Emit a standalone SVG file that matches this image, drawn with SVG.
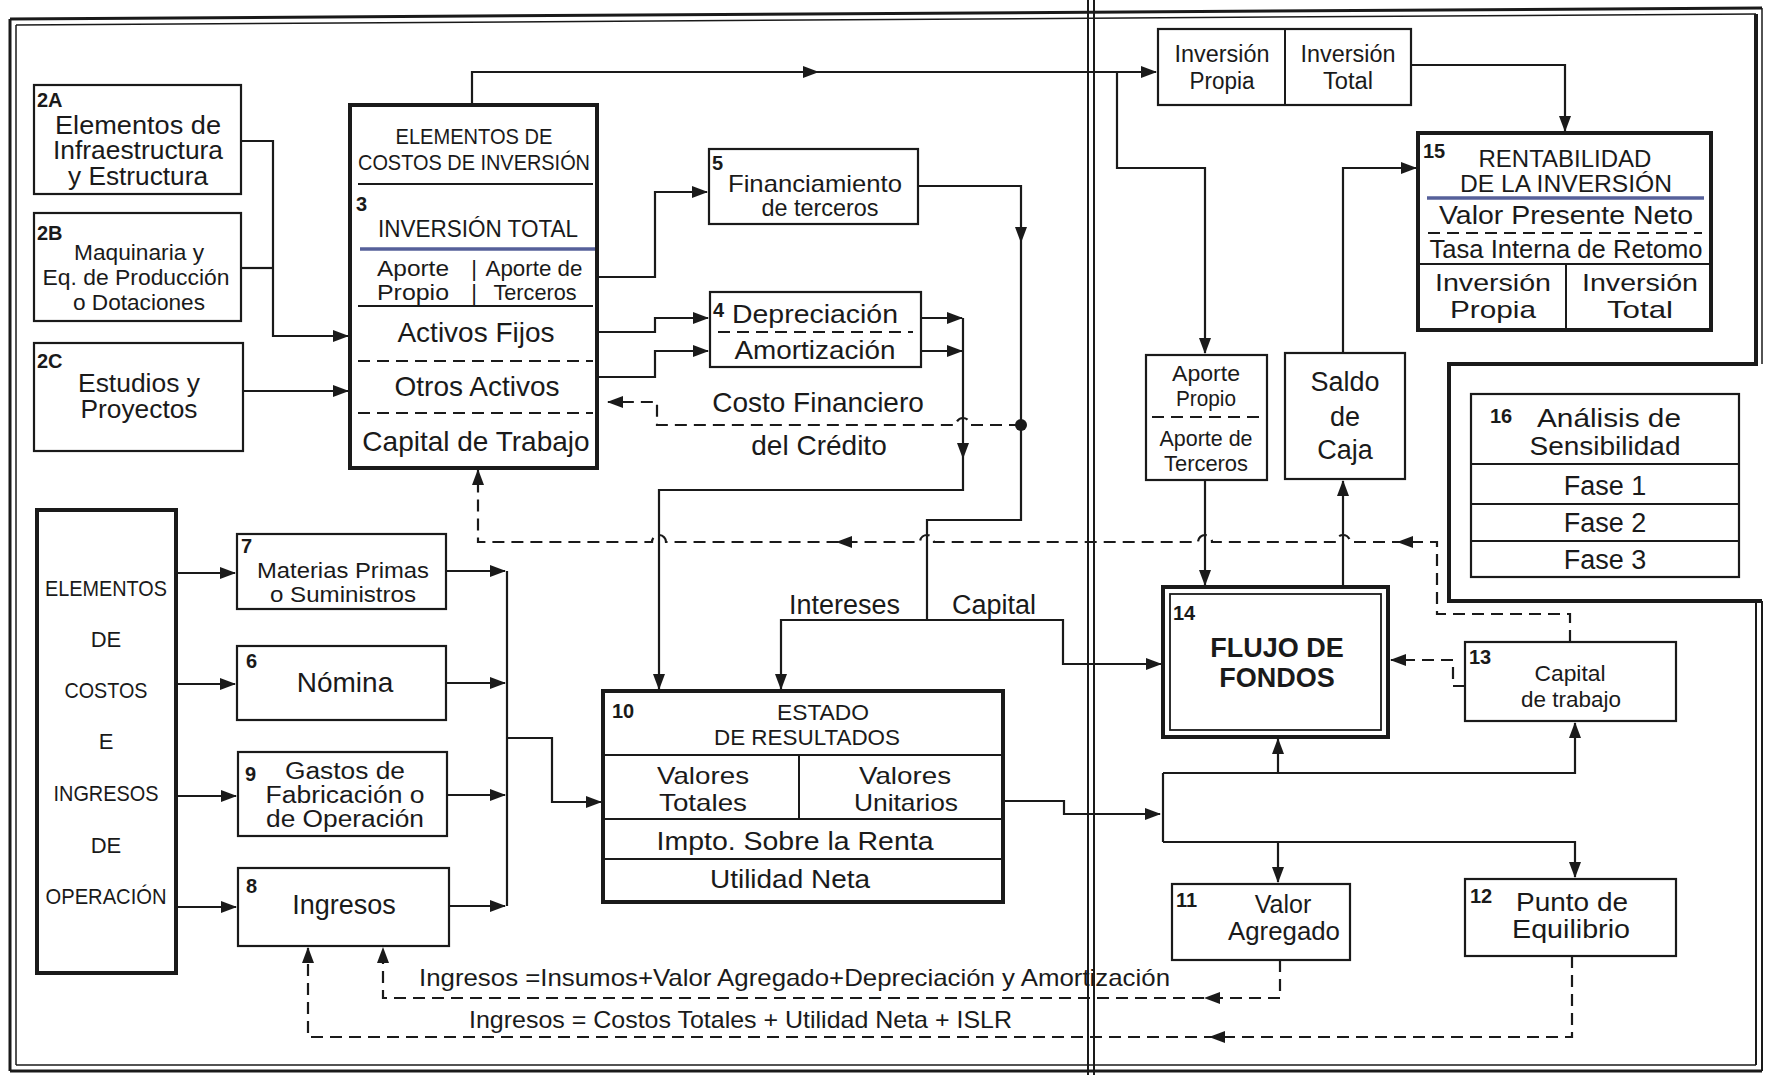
<svg xmlns="http://www.w3.org/2000/svg" width="1767" height="1075" viewBox="0 0 1767 1075">
<defs>
<style>
.b{fill:#fff;stroke:#1a1a1a;stroke-width:2.2}
.bt{fill:#fff;stroke:#1a1a1a;stroke-width:4}
.c{fill:none;stroke:#1a1a1a;stroke-width:2.2}
.d{fill:none;stroke:#1a1a1a;stroke-width:2.2;stroke-dasharray:12 7}
.l{fill:none;stroke:#1a1a1a;stroke-width:2}
.ld{fill:none;stroke:#1a1a1a;stroke-width:2;stroke-dasharray:12 7}
.bl{fill:none;stroke:#56609a;stroke-width:3.5}
text{font-family:"Liberation Sans",Arial,sans-serif;fill:#1a1a1a;font-size:25px}
.m{text-anchor:middle}
.n{font-weight:bold;font-size:20px}
.s{font-size:22px}
.k{font-size:28px}
</style>
<marker id="ar" markerWidth="16" markerHeight="12" refX="15" refY="6" orient="auto" markerUnits="userSpaceOnUse"><path d="M0,0 L16,6 L0,12 Z" fill="#1a1a1a"/></marker>
<path id="ah" d="M1,0 L-15,-6 L-15,6 Z" fill="#1a1a1a"/>
</defs>
<rect width="1767" height="1075" fill="#fff"/>

<g id="frame" fill="none" stroke="#1a1a1a">
<line x1="10" y1="19" x2="1762" y2="8" stroke-width="3"/>
<line x1="16" y1="25" x2="1756" y2="14" stroke-width="1.5"/>
<line x1="10" y1="19" x2="10" y2="1071" stroke-width="3"/>
<line x1="16" y1="25" x2="16" y2="1065" stroke-width="1.5"/>
<line x1="10" y1="1071" x2="1762" y2="1071" stroke-width="3"/>
<line x1="16" y1="1065" x2="1756" y2="1065" stroke-width="1.5"/>
<line x1="1088" y1="0" x2="1088" y2="1075" stroke-width="2"/>
<line x1="1094" y1="0" x2="1094" y2="1075" stroke-width="2"/>
<path d="M1756,14 V364 H1449 V601 H1762" stroke-width="4"/>
<line x1="1756" y1="601" x2="1756" y2="1065" stroke-width="2"/>
<line x1="1762" y1="8" x2="1762" y2="364" stroke-width="1.5"/>
<line x1="1762" y1="601" x2="1762" y2="1071" stroke-width="2"/>
</g>

<g id="connectors">
<path class="c" d="M241,141 H273 V336 H348" marker-end="url(#ar)"/>
<path class="c" d="M241,268 H273"/>
<path class="c" d="M243,391 H348" marker-end="url(#ar)"/>
<path class="c" d="M472,105 V72 H1156" marker-end="url(#ar)"/>
<use href="#ah" transform="translate(818,72)"/>
<path class="c" d="M1117,72 V168 H1205 V353" marker-end="url(#ar)"/>
<path class="c" d="M1411,65 H1565 V131" marker-end="url(#ar)"/>
<path class="c" d="M1343,353 V168 H1416" marker-end="url(#ar)"/>
<path class="c" d="M597,277 H655 V192 H707" marker-end="url(#ar)"/>
<path class="c" d="M597,332 H655 V318 H708" marker-end="url(#ar)"/>
<path class="c" d="M597,377 H655 V351 H708" marker-end="url(#ar)"/>
<path class="c" d="M921,318 H962" marker-end="url(#ar)"/>
<path class="c" d="M921,351 H962" marker-end="url(#ar)"/>
<path class="c" d="M963,318 V490 H659 V689" marker-end="url(#ar)"/>
<use href="#ah" transform="translate(963,458) rotate(90)"/>
<path class="c" d="M918,186 H1021 V520 H927 V620"/>
<use href="#ah" transform="translate(1021,242) rotate(90)"/>
<path class="c" d="M927,620 H781 V689" marker-end="url(#ar)"/>
<path class="c" d="M927,620 H1063 V664 H1161" marker-end="url(#ar)"/>
<circle cx="1021" cy="425" r="6" fill="#1a1a1a"/>
<path class="d" d="M1021,425 H970 A7,7 0 0 0 956,425 H657 V402 H608" marker-end="url(#ar)"/>
<path class="d" d="M1570,642 V614 H1437 V542 H1350 A7,7 0 0 0 1336,542 H1212 A7,7 0 0 0 1198,542 H934 A7,7 0 0 0 920,542 H666 A7,7 0 0 0 652,542 H478 V470" marker-end="url(#ar)"/>
<use href="#ah" transform="translate(1398,542) rotate(180)"/>
<use href="#ah" transform="translate(837,542) rotate(180)"/>
<path class="c" d="M1205,480 V585" marker-end="url(#ar)"/>
<path class="c" d="M1343,587 V481" marker-end="url(#ar)"/>
<path class="d" d="M1465,686 H1453 V660 H1391" marker-end="url(#ar)"/>
<path class="c" d="M1003,801 H1064 V814 H1160" marker-end="url(#ar)"/>
<path class="c" d="M1163,773 V842"/>
<path class="c" d="M1163,773 H1575 V723" marker-end="url(#ar)"/>
<path class="c" d="M1278,773 V739" marker-end="url(#ar)"/>
<path class="c" d="M1163,842 H1575 V877" marker-end="url(#ar)"/>
<path class="c" d="M1278,842 V882" marker-end="url(#ar)"/>
<path class="d" d="M1280,960 V998 H383 V948" marker-end="url(#ar)"/>
<use href="#ah" transform="translate(1205,998) rotate(180)"/>
<path class="d" d="M1572,956 V1037 H308 V948" marker-end="url(#ar)"/>
<use href="#ah" transform="translate(1210,1037) rotate(180)"/>
<path class="c" d="M176,573 H235" marker-end="url(#ar)"/>
<path class="c" d="M176,684 H235" marker-end="url(#ar)"/>
<path class="c" d="M176,796 H236" marker-end="url(#ar)"/>
<path class="c" d="M176,907 H236" marker-end="url(#ar)"/>
<path class="c" d="M446,571 H505" marker-end="url(#ar)"/>
<path class="c" d="M446,683 H505" marker-end="url(#ar)"/>
<path class="c" d="M447,795 H505" marker-end="url(#ar)"/>
<path class="c" d="M449,906 H505" marker-end="url(#ar)"/>
<path class="c" d="M507,571 V906"/>
<path class="c" d="M507,738 H552 V802 H601" marker-end="url(#ar)"/>
<text x="789" y="614" style="font-size:27px">Intereses</text>
<text x="952" y="614" style="font-size:27px">Capital</text>
<text class="k m" x="818" y="412">Costo Financiero</text>
<text class="k m" x="819" y="455">del Crédito</text>
<text x="419" y="986" style="font-size:24px" textLength="751" lengthAdjust="spacingAndGlyphs">Ingresos =Insumos+Valor Agregado+Depreciación y Amortización</text>
<text x="469" y="1028" style="font-size:24px" textLength="543" lengthAdjust="spacingAndGlyphs">Ingresos = Costos Totales + Utilidad Neta + ISLR</text>
</g>

<g id="n2A">
<rect class="b" x="34" y="85" width="207" height="109"/>
<text class="n" x="37" y="107">2A</text>
<text class="m" x="138" y="134" textLength="166" lengthAdjust="spacingAndGlyphs">Elementos de</text>
<text class="m" x="138" y="159" textLength="170" lengthAdjust="spacingAndGlyphs">Infraestructura</text>
<text class="m" x="138" y="185" textLength="140" lengthAdjust="spacingAndGlyphs">y Estructura</text>
</g>
<g id="n2B">
<rect class="b" x="34" y="213" width="207" height="108"/>
<text class="n" x="37" y="240">2B</text>
<text class="m s" x="139" y="260" textLength="130" lengthAdjust="spacingAndGlyphs">Maquinaria y</text>
<text class="m s" x="136" y="285" textLength="187" lengthAdjust="spacingAndGlyphs">Eq. de Producción</text>
<text class="m s" x="139" y="310" textLength="132" lengthAdjust="spacingAndGlyphs">o Dotaciones</text>
</g>
<g id="n2C">
<rect class="b" x="34" y="343" width="209" height="108"/>
<text class="n" x="37" y="368">2C</text>
<text class="m" x="139" y="392" textLength="122" lengthAdjust="spacingAndGlyphs">Estudios y</text>
<text class="m" x="139" y="418" textLength="117" lengthAdjust="spacingAndGlyphs">Proyectos</text>
</g>

<g id="n3">
<rect class="bt" x="350" y="105" width="247" height="363"/>
<text class="m s" x="474" y="144" textLength="157" lengthAdjust="spacingAndGlyphs">ELEMENTOS DE</text>
<text class="m s" x="474" y="170" textLength="232" lengthAdjust="spacingAndGlyphs">COSTOS DE INVERSIÓN</text>
<line class="l" x1="358" y1="184" x2="593" y2="184"/>
<text class="n" x="356" y="211">3</text>
<text class="m" x="478" y="237" style="font-size:24px" textLength="200" lengthAdjust="spacingAndGlyphs">INVERSIÓN TOTAL</text>
<line class="bl" x1="360" y1="249" x2="595" y2="249"/>
<text class="m s" x="413" y="276" textLength="72" lengthAdjust="spacingAndGlyphs">Aporte</text>
<text class="m s" x="474" y="276">|</text>
<text class="m s" x="534" y="276" textLength="97" lengthAdjust="spacingAndGlyphs">Aporte de</text>
<text class="m s" x="413" y="300" textLength="72" lengthAdjust="spacingAndGlyphs">Propio</text>
<text class="m s" x="474" y="300">|</text>
<text class="m s" x="535" y="300" textLength="83" lengthAdjust="spacingAndGlyphs">Terceros</text>
<line class="l" x1="358" y1="306" x2="593" y2="306"/>
<text class="m k" x="476" y="342">Activos Fijos</text>
<line class="ld" x1="358" y1="361" x2="593" y2="361"/>
<text class="m k" x="477" y="396">Otros Activos</text>
<line class="ld" x1="358" y1="413" x2="593" y2="413"/>
<text class="m k" x="476" y="451">Capital de Trabajo</text>
</g>

<g id="n5">
<rect class="b" x="709" y="149" width="209" height="75"/>
<text class="n" x="712" y="170">5</text>
<text class="m" x="815" y="192" style="font-size:24px" textLength="174" lengthAdjust="spacingAndGlyphs">Financiamiento</text>
<text class="m" x="820" y="216" style="font-size:24px" textLength="117" lengthAdjust="spacingAndGlyphs">de terceros</text>
</g>

<g id="n4">
<rect class="b" x="710" y="292" width="211" height="75"/>
<text class="n" x="713" y="317">4</text>
<text class="m" x="815" y="323" style="font-size:26px" textLength="166" lengthAdjust="spacingAndGlyphs">Depreciación</text>
<line class="ld" x1="718" y1="332" x2="913" y2="332"/>
<text class="m" x="815" y="359" style="font-size:26px" textLength="161" lengthAdjust="spacingAndGlyphs">Amortización</text>
</g>

<g id="nInv">
<rect class="b" x="1158" y="29" width="253" height="76"/>
<line class="l" x1="1285" y1="29" x2="1285" y2="105"/>
<text class="m" x="1222" y="62" style="font-size:23px" textLength="95" lengthAdjust="spacingAndGlyphs">Inversión</text>
<text class="m" x="1222" y="89" style="font-size:23px" textLength="65" lengthAdjust="spacingAndGlyphs">Propia</text>
<text class="m" x="1348" y="62" style="font-size:23px" textLength="95" lengthAdjust="spacingAndGlyphs">Inversión</text>
<text class="m" x="1348" y="89" style="font-size:23px" textLength="50" lengthAdjust="spacingAndGlyphs">Total</text>
</g>

<g id="n15">
<rect class="bt" x="1418" y="133" width="293" height="197"/>
<text class="n" x="1423" y="158">15</text>
<text class="m" x="1565" y="167" style="font-size:24px">RENTABILIDAD</text>
<text class="m" x="1566" y="192" style="font-size:23px" textLength="212" lengthAdjust="spacingAndGlyphs">DE LA INVERSIÓN</text>
<line class="bl" x1="1427" y1="198" x2="1704" y2="198"/>
<text class="m" x="1566" y="224" style="font-size:26px" textLength="254" lengthAdjust="spacingAndGlyphs">Valor Presente Neto</text>
<line class="ld" x1="1428" y1="233" x2="1702" y2="233"/>
<text class="m" x="1566" y="258" textLength="273" lengthAdjust="spacingAndGlyphs">Tasa Interna de Retomo</text>
<line class="l" x1="1420" y1="264" x2="1709" y2="264"/>
<line class="l" x1="1566" y1="264" x2="1566" y2="330"/>
<text class="m" x="1493" y="291" style="font-size:24px" textLength="116" lengthAdjust="spacingAndGlyphs">Inversión</text>
<text class="m" x="1493" y="318" style="font-size:24px" textLength="86" lengthAdjust="spacingAndGlyphs">Propia</text>
<text class="m" x="1640" y="291" style="font-size:24px" textLength="116" lengthAdjust="spacingAndGlyphs">Inversión</text>
<text class="m" x="1640" y="318" style="font-size:24px" textLength="66" lengthAdjust="spacingAndGlyphs">Total</text>
</g>

<g id="nAporte">
<rect class="b" x="1146" y="355" width="121" height="125"/>
<text class="m s" x="1206" y="381" textLength="68" lengthAdjust="spacingAndGlyphs">Aporte</text>
<text class="m s" x="1206" y="406" textLength="60" lengthAdjust="spacingAndGlyphs">Propio</text>
<line class="ld" x1="1152" y1="417" x2="1262" y2="417"/>
<text class="m s" x="1206" y="446" textLength="93" lengthAdjust="spacingAndGlyphs">Aporte de</text>
<text class="m s" x="1206" y="471" textLength="84" lengthAdjust="spacingAndGlyphs">Terceros</text>
</g>

<g id="nSaldo">
<rect class="b" x="1285" y="353" width="120" height="126"/>
<text class="m" x="1345" y="391" style="font-size:27px">Saldo</text>
<text class="m" x="1345" y="426" style="font-size:27px">de</text>
<text class="m" x="1345" y="459" style="font-size:27px">Caja</text>
</g>

<g id="n16">
<rect class="b" x="1471" y="394" width="268" height="183"/>
<text class="n" x="1490" y="423">16</text>
<text class="m" x="1609" y="427" style="font-size:25px" textLength="144" lengthAdjust="spacingAndGlyphs">Análisis de</text>
<text class="m" x="1605" y="455" style="font-size:25px" textLength="151" lengthAdjust="spacingAndGlyphs">Sensibilidad</text>
<line class="l" x1="1471" y1="464" x2="1739" y2="464"/>
<line class="l" x1="1471" y1="504" x2="1739" y2="504"/>
<line class="l" x1="1471" y1="541" x2="1739" y2="541"/>
<text class="m" x="1605" y="495" style="font-size:27px">Fase 1</text>
<text class="m" x="1605" y="532" style="font-size:27px">Fase 2</text>
<text class="m" x="1605" y="569" style="font-size:27px">Fase 3</text>
</g>

<g id="n14">
<rect class="bt" x="1163" y="587" width="225" height="150"/>
<rect x="1170" y="594" width="211" height="136" fill="none" stroke="#1a1a1a" stroke-width="1.8"/>
<text class="n" x="1173" y="620">14</text>
<text class="m" x="1277" y="657" style="font-size:27px;font-weight:bold">FLUJO DE</text>
<text class="m" x="1277" y="687" style="font-size:27px;font-weight:bold">FONDOS</text>
</g>

<g id="n13">
<rect class="b" x="1465" y="642" width="211" height="79"/>
<text class="n" x="1469" y="664">13</text>
<text class="m s" x="1570" y="681" textLength="71" lengthAdjust="spacingAndGlyphs">Capital</text>
<text class="m s" x="1571" y="707" textLength="100" lengthAdjust="spacingAndGlyphs">de trabajo</text>
</g>

<g id="n11">
<rect class="b" x="1172" y="884" width="178" height="76"/>
<text class="n" x="1176" y="907">11</text>
<text class="m" x="1283" y="913" style="font-size:25px">Valor</text>
<text class="m" x="1284" y="940" style="font-size:25px" textLength="112" lengthAdjust="spacingAndGlyphs">Agregado</text>
</g>

<g id="n12">
<rect class="b" x="1465" y="879" width="211" height="77"/>
<text class="n" x="1470" y="903">12</text>
<text class="m" x="1572" y="911" style="font-size:26px" textLength="112" lengthAdjust="spacingAndGlyphs">Punto de</text>
<text class="m" x="1571" y="938" style="font-size:26px" textLength="118" lengthAdjust="spacingAndGlyphs">Equilibrio</text>
</g>

<g id="n10">
<rect class="bt" x="603" y="691" width="400" height="211"/>
<text class="n" x="612" y="718">10</text>
<text class="m s" x="823" y="720" textLength="92" lengthAdjust="spacingAndGlyphs">ESTADO</text>
<text class="m s" x="807" y="745" textLength="186" lengthAdjust="spacingAndGlyphs">DE RESULTADOS</text>
<line class="l" x1="603" y1="755" x2="1003" y2="755"/>
<line class="l" x1="799" y1="755" x2="799" y2="819"/>
<text class="m" x="703" y="784" style="font-size:24px" textLength="92" lengthAdjust="spacingAndGlyphs">Valores</text>
<text class="m" x="703" y="811" style="font-size:24px" textLength="88" lengthAdjust="spacingAndGlyphs">Totales</text>
<text class="m" x="905" y="784" style="font-size:24px" textLength="92" lengthAdjust="spacingAndGlyphs">Valores</text>
<text class="m" x="906" y="811" style="font-size:24px" textLength="104" lengthAdjust="spacingAndGlyphs">Unitarios</text>
<line class="l" x1="603" y1="819" x2="1003" y2="819"/>
<text class="m" x="795" y="850" style="font-size:26px" textLength="277" lengthAdjust="spacingAndGlyphs">Impto. Sobre la Renta</text>
<line class="l" x1="603" y1="859" x2="1003" y2="859"/>
<text class="m" x="790" y="888" style="font-size:26px" textLength="160" lengthAdjust="spacingAndGlyphs">Utilidad Neta</text>
</g>

<g id="nElem">
<rect class="bt" x="37" y="510" width="139" height="463"/>
<text class="m" x="106" y="596" style="font-size:22px" textLength="122" lengthAdjust="spacingAndGlyphs">ELEMENTOS</text>
<text class="m" x="106" y="647" style="font-size:22px">DE</text>
<text class="m" x="106" y="698" style="font-size:22px" textLength="83" lengthAdjust="spacingAndGlyphs">COSTOS</text>
<text class="m" x="106" y="749" style="font-size:22px">E</text>
<text class="m" x="106" y="801" style="font-size:22px" textLength="105" lengthAdjust="spacingAndGlyphs">INGRESOS</text>
<text class="m" x="106" y="853" style="font-size:22px">DE</text>
<text class="m" x="106" y="904" style="font-size:22px" textLength="121" lengthAdjust="spacingAndGlyphs">OPERACIÓN</text>
</g>

<g id="n7">
<rect class="b" x="237" y="534" width="209" height="75"/>
<text class="n" x="241" y="553">7</text>
<text class="m s" x="343" y="578" textLength="172" lengthAdjust="spacingAndGlyphs">Materias Primas</text>
<text class="m s" x="343" y="602" textLength="146" lengthAdjust="spacingAndGlyphs">o Suministros</text>
</g>
<g id="n6">
<rect class="b" x="237" y="646" width="209" height="74"/>
<text class="n" x="246" y="668">6</text>
<text class="m k" x="345" y="692">Nómina</text>
</g>
<g id="n9">
<rect class="b" x="238" y="752" width="209" height="84"/>
<text class="n" x="245" y="781">9</text>
<text class="m" x="345" y="779" style="font-size:23px" textLength="120" lengthAdjust="spacingAndGlyphs">Gastos de</text>
<text class="m" x="345" y="803" style="font-size:23px" textLength="159" lengthAdjust="spacingAndGlyphs">Fabricación o</text>
<text class="m" x="345" y="827" style="font-size:23px" textLength="158" lengthAdjust="spacingAndGlyphs">de Operación</text>
</g>
<g id="n8">
<rect class="b" x="238" y="868" width="211" height="78"/>
<text class="n" x="246" y="893">8</text>
<text class="m" x="344" y="914" style="font-size:27px">Ingresos</text>
</g>
</svg>
